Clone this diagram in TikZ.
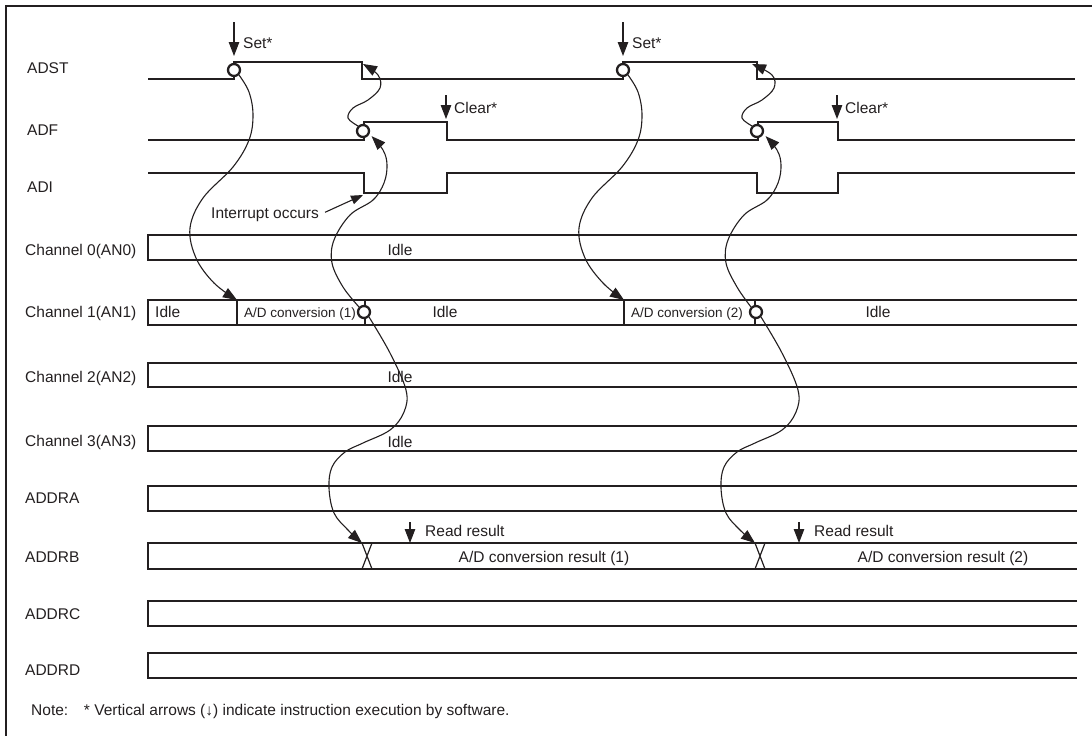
\documentclass[tikz,border=0pt]{standalone}
\usepackage{fontspec}
\setmainfont{Liberation Sans}
\usetikzlibrary{arrows.meta}
\definecolor{ink}{RGB}{35,31,32}
\begin{document}
\begin{tikzpicture}[x=1pt,y=-1pt,
  sig/.style={draw=ink, line width=1.2pt, line join=miter},
  frame/.style={draw=ink, line width=2.6pt},
  lbl/.style={anchor=base west, inner sep=0pt, text=ink, font=\fontsize{15.5}{18}\selectfont},
  ctr/.style={anchor=base, inner sep=0pt, text=ink, font=\fontsize{15.5}{18}\selectfont},
  small/.style={anchor=base west, inner sep=0pt, text=ink, font=\fontsize{13.5}{16}\selectfont},
  dot/.style={circle, draw=ink, line width=2.3pt, fill=white, minimum size=12pt, inner sep=0pt},
  tip/.style={-{Triangle[length=14pt,width=10.5pt]}},
  conn/.style={draw=ink, line width=1.1pt, tip},
]
\useasboundingbox (0,0) rectangle (1092,736);
% frame
\draw[frame] (6,745) -- (6,6) -- (1100,6);

% signal labels
\node[lbl] (lADST) at (27,73) {ADST};
\node[lbl] (lADF) at (27,135) {ADF};
\node[lbl] (lADI) at (27,192) {ADI};
\node[lbl] (lC0) at (25,255) {Channel 0(AN0)};
\node[lbl] (lC1) at (25,317) {Channel 1(AN1)};
\node[lbl] (lC2) at (25,382) {Channel 2(AN2)};
\node[lbl] (lC3) at (25,446) {Channel 3(AN3)};
\node[lbl] (lRA) at (25,503) {ADDRA};
\node[lbl] (lRB) at (25,562) {ADDRB};
\node[lbl] (lRC) at (25,619) {ADDRC};
\node[lbl] (lRD) at (25,675) {ADDRD};

% waveforms
\draw[sig] (148,79) -- (234,79) -- (234,62) -- (362,62) -- (362,79) -- (623,79) -- (623,62) -- (757,62) -- (757,79) -- (1075,79);
\draw[sig] (148,140) -- (364,140) -- (364,122) -- (447,122) -- (447,140) -- (758,140) -- (758,122) -- (838,122) -- (838,140) -- (1075,140);
\draw[sig] (148,173) -- (364,173) -- (364,193) -- (447,193) -- (447,173) -- (757,173) -- (757,193) -- (838,193) -- (838,173) -- (1075,173);

% bus rows
\foreach \t/\b in {235/260, 300/325, 363/387, 426/451, 486/511, 543/569, 601/626, 653/678}
  \draw[sig] (1077,\t) -- (148,\t) -- (148,\b) -- (1077,\b);
\foreach \x in {237,365,624,755}
  \draw[sig] (\x,300) -- (\x,325);
\foreach \x in {362,755}
  \draw[sig] (\x,543) -- (\x+10,569) (\x,569) -- (\x+10,543);

% row texts
\node[ctr] (i0) at (400,255) {Idle};
\node[lbl] (i1a) at (155,317) {Idle};
\node[small] (cv1) at (244,317) {A/D conversion (1)};
\node[ctr] (i1b) at (445,317) {Idle};
\node[small] (cv2) at (631,317) {A/D conversion (2)};
\node[ctr] (i1c) at (878,317) {Idle};
\node[ctr] (i2) at (400,382) {Idle};
\node[ctr] (i3) at (400,447) {Idle};
\node[ctr] (r1) at (544,562) {A/D conversion result (1)};
\node[ctr] (r2) at (943,562) {A/D conversion result (2)};

% interrupt
\node[lbl] (intr) at (211,218) {Interrupt occurs};
\coordinate (ia) at (363,195);
\draw[draw=ink, line width=1.1pt, -{Triangle[length=12pt,width=9pt]}] ([xshift=6pt,yshift=2pt]intr.east) -- (ia);

% note
\node[lbl] (note) at (31,715) {Note:\hspace{10pt} * Vertical arrows (↓) indicate instruction execution by software.};

\foreach \i/\a/\f/\c/\dv/\xx/\cl/\rd in {1/0/0/0/237/362/446/410, 2/389/394/392/624/755/837/799}{
  % software arrows
  \coordinate (sa\i) at (234+\a,22);
  \coordinate (sb\i) at (234+\a,56);
  \draw[conn] (sa\i) -- (sb\i);
  \node[lbl] (set\i) at (243+\a,48) {Set*};
  \coordinate (ca\i) at (\cl,95);
  \coordinate (cb\i) at (\cl,119);
  \draw[conn] (ca\i) -- (cb\i);
  \node[lbl] (clr\i) at (\cl+8,113) {Clear*};
  \coordinate (ra\i) at (\rd,522);
  \coordinate (rb\i) at (\rd,543);
  \draw[conn] (ra\i) -- (rb\i);
  \node[lbl] (rr\i) at (\rd+15,536) {Read result};
  % circles
  \node[dot] (st\i) at (234+\a,70) {};
  \node[dot] (f\i) at (363+\f,131) {};
  \node[dot] (c\i) at (364+\c,312) {};
  \coordinate (d\i) at (\dv,300);
  \coordinate (x\i) at (\xx,543);
  \coordinate (fe\i) at (363+\a,64);
  % curves
  \draw[conn] plot[smooth, tension=0.6] coordinates {(st\i.south east) (249+\a,92) (253+\a,115) (249+\a,140) (233+\a,167) (203+\a,198) (190+\a,228) (196+\a,258) (214+\a,283) (d\i)};
  \draw[conn] plot[smooth, tension=0.6] coordinates {(c\i.south east) (390+\c,353) (406+\c,390) (404+\c,412) (390+\c,430) (363+\c,443) (345+\c,452) (332+\c,467) (329+\c,488) (334+\c,513) (348+\c,530) (x\i)};
  \draw[conn, shorten >=3pt] plot[smooth, tension=0.6] coordinates {(c\i.north west) (343+\f,287) (332+\f,263) (334+\f,240) (350+\f,215) (373+\f,200) (384+\f,183) (387+\f,165) (383+\f,150) (f\i.-25)};
  \draw[conn] plot[smooth, tension=0.6] coordinates {(f\i.north west) (348+\f,118) (353+\f,108) (368+\f,100) (380+\f,88) (378+\f,75) (fe\i)};
}
\end{tikzpicture}
\end{document}
